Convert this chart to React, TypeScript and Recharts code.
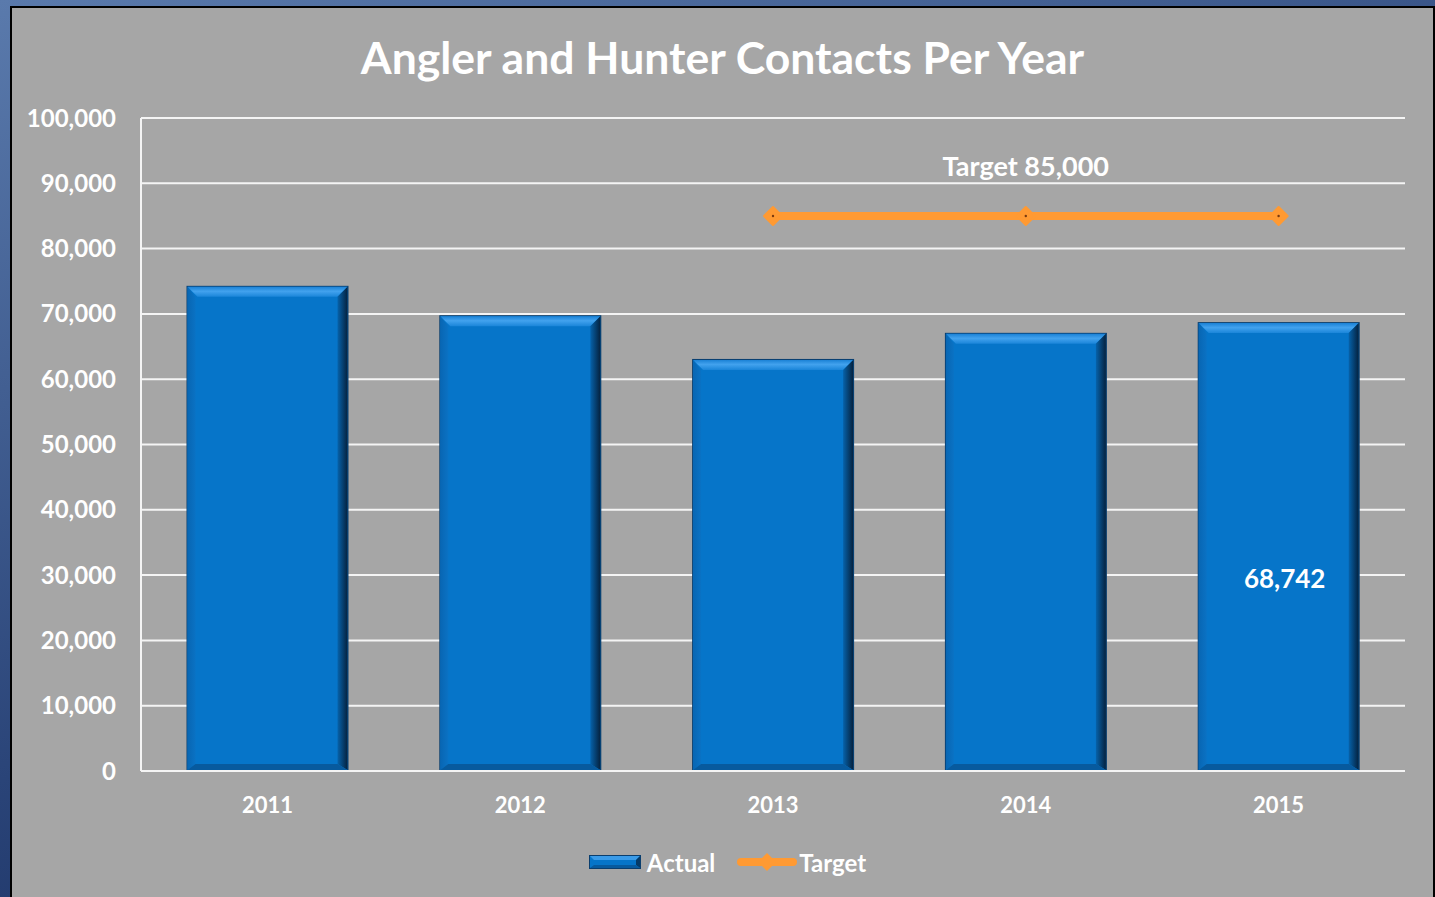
import React from 'react';
import { ComposedChart, Bar, Line, XAxis, YAxis, CartesianGrid, Legend, LabelList } from 'recharts';

const years = ['2011', '2012', '2013', '2014', '2015'];
const actualValues = [74300, 69800, 63100, 67100, 68742];
const targetValues: (number | null)[] = [null, null, 85000, 85000, 85000];
const yTicks = [0, 10000, 20000, 30000, 40000, 50000, 60000, 70000, 80000, 90000, 100000];
const titleText = 'Angler and Hunter Contacts Per Year';
const targetLabelText = 'Target 85,000';

const data = years.map((y, i) => ({ year: y, actual: actualValues[i], target: targetValues[i] }));

const FONT = 'Lato, "Open Sans", sans-serif';
const fmt = (v: number) => v.toLocaleString('en-US');

const BevelBar = (props: any) => {
  const { x, y, width: w, height: h } = props;
  if (w == null || h == null || h <= 0) return <g />;
  const b = 10;
  return (
    <g>
      <rect x={x} y={y} width={w} height={h} fill="#0a3e6e" />
      <rect x={x + 1} y={y + 1} width={w - 2} height={h - 2} fill="#0675c9" />
      <polygon points={`${x + 1},${y + 1} ${x + w - 1},${y + 1} ${x + w - 1 - b},${y + 1 + b} ${x + 1 + b},${y + 1 + b}`} fill="url(#bevTop)" />
      <polygon points={`${x + 1},${y + 1} ${x + 1 + b * 0.8},${y + 1 + b} ${x + 1 + b * 0.8},${y + h - 1 - b * 0.6} ${x + 1},${y + h - 1}`} fill="url(#bevLeft)" />
      <polygon points={`${x + w - 1},${y + 1} ${x + w - 1},${y + h - 1} ${x + w - 1 - b},${y + h - 1 - b * 0.6} ${x + w - 1 - b},${y + 1 + b}`} fill="url(#bevRight)" />
      <polygon points={`${x + 1},${y + h - 1} ${x + w - 1},${y + h - 1} ${x + w - 1 - b},${y + h - 1 - b * 0.6} ${x + 1 + b * 0.8},${y + h - 1 - b * 0.6}`} fill="#075a9e" />
    </g>
  );
};

const Diamond = (props: any) => {
  const { cx, cy, index } = props;
  if (cx == null || cy == null || props.value == null) return <g key={`d${index}`} />;
  const r = 9;
  return (
    <g key={`d${index}`}>
      <polygon points={`${cx},${cy - r} ${cx + r},${cy} ${cx},${cy + r} ${cx - r},${cy}`} fill="#ff9a33" stroke="#ff9a33" strokeWidth={2} strokeLinejoin="round" />
      <circle cx={cx} cy={cy} r={1.2} fill="#7a3a10" />
    </g>
  );
};

const TargetLabel = (props: any) => {
  const { x, y, index } = props;
  if (index !== 3 || x == null || y == null) return null;
  return (
    <text x={x} y={y - 50} textAnchor="middle" dominantBaseline="central" fill="#ffffff" fontFamily={FONT} fontWeight={700} fontSize={27}>
      {targetLabelText}
    </text>
  );
};

const ActualLabel = (props: any) => {
  const { x, y, width, height, index, value } = props;
  if (index !== 4) return null;
  return (
    <text x={x + width / 2 + 6} y={y + height * 0.57} textAnchor="middle" dominantBaseline="central" fill="#ffffff" fontFamily={FONT} fontWeight={700} fontSize={26}>
      {fmt(value)}
    </text>
  );
};

const LegendContent = () => (
  <div style={{ display: 'flex', justifyContent: 'center', alignItems: 'center', height: 30, paddingLeft: 19, fontFamily: FONT, fontWeight: 700, fontSize: 24, color: '#ffffff' }}>
    <svg width={54} height={16} style={{ marginRight: 5 }}>
      <rect x={1} y={1} width={52} height={14} fill="#0a3e6e" />
      <rect x={2} y={2} width={50} height={12} fill="#0675c9" />
      <polygon points="2,2 52,2 48,6 6,6" fill="#3a9be8" />
      <polygon points="52,2 52,14 48,11 48,6" fill="#063a66" />
      <polygon points="2,14 52,14 48,11 6,11" fill="#075a9e" />
    </svg>
    <span style={{ marginRight: 22 }}>Actual</span>
    <svg width={60} height={20} style={{ marginRight: 2 }}>
      <line x1={4} y1={10} x2={56} y2={10} stroke="#ff9a33" strokeWidth={8} strokeLinecap="round" />
      <polygon points="30,1 39,10 30,19 21,10" fill="#ff9a33" />
    </svg>
    <span>Target</span>
  </div>
);

export default function App() {
  return (
    <div style={{ position: 'absolute', left: 0, top: 0, width: 1435, height: 897, overflow: 'hidden', background: 'linear-gradient(160deg, #5a7aac 0%, #2a4478 55%, #0b1e4f 100%)' }}>
      <div style={{ position: 'absolute', left: 10, top: 6, width: 1425, height: 897, boxSizing: 'border-box', borderLeft: '2px solid #000', borderTop: '2px solid #000', borderRight: '2px solid #000', background: '#a6a6a6' }} />
      <div style={{ position: 'absolute', left: 10, top: 27, width: 1425, textAlign: 'center', fontFamily: FONT, fontWeight: 700, fontSize: 44.5, color: '#ffffff', lineHeight: '60px' }}>
        {titleText}
      </div>
      <div style={{ position: 'absolute', left: 0, top: 0 }}>
        <ComposedChart width={1435} height={897} data={data} margin={{ top: 118, right: 30, left: 0, bottom: 46 }} barCategoryGap="18%">
          <defs>
            <linearGradient id="bevTop" x1="0" y1="0" x2="0" y2="1">
              <stop offset="0%" stopColor="#1b82d6" />
              <stop offset="45%" stopColor="#42a2ee" />
              <stop offset="100%" stopColor="#1a85d9" />
            </linearGradient>
            <linearGradient id="bevLeft" x1="0" y1="0" x2="1" y2="0">
              <stop offset="0%" stopColor="#0866b3" />
              <stop offset="100%" stopColor="#0a72c4" />
            </linearGradient>
            <linearGradient id="bevRight" x1="0" y1="0" x2="1" y2="0">
              <stop offset="0%" stopColor="#0662aa" />
              <stop offset="100%" stopColor="#05223f" />
            </linearGradient>
          </defs>
          <CartesianGrid vertical={false} stroke="#f4f4f4" strokeWidth={2} />
          <XAxis
            dataKey="year"
            axisLine={{ stroke: '#f4f4f4', strokeWidth: 2 }}
            tickLine={false}
            tickSize={0}
            tickMargin={26}
            height={50}
            tick={{ fill: '#ffffff', fontSize: 22, fontWeight: 700, fontFamily: FONT }}
          />
          <YAxis
            domain={[0, 100000]}
            ticks={yTicks}
            interval={0}
            width={141}
            axisLine={{ stroke: '#f4f4f4', strokeWidth: 2 }}
            tickLine={false}
            tickSize={0}
            tickMargin={25}
            tickFormatter={fmt}
            tick={{ fill: '#ffffff', fontSize: 24, fontWeight: 700, fontFamily: FONT }}
          />
          <Bar dataKey="actual" name="Actual" shape={<BevelBar />} isAnimationActive={false}>
            <LabelList dataKey="actual" content={<ActualLabel />} />
          </Bar>
          <Line dataKey="target" name="Target" stroke="#ff9a33" strokeWidth={8} dot={<Diamond />} activeDot={false} isAnimationActive={false}>
            <LabelList dataKey="target" content={<TargetLabel />} />
          </Line>
          <Legend content={<LegendContent />} wrapperStyle={{ top: 847, left: 0, width: 1435, height: 30 }} />
        </ComposedChart>
      </div>
    </div>
  );
}
